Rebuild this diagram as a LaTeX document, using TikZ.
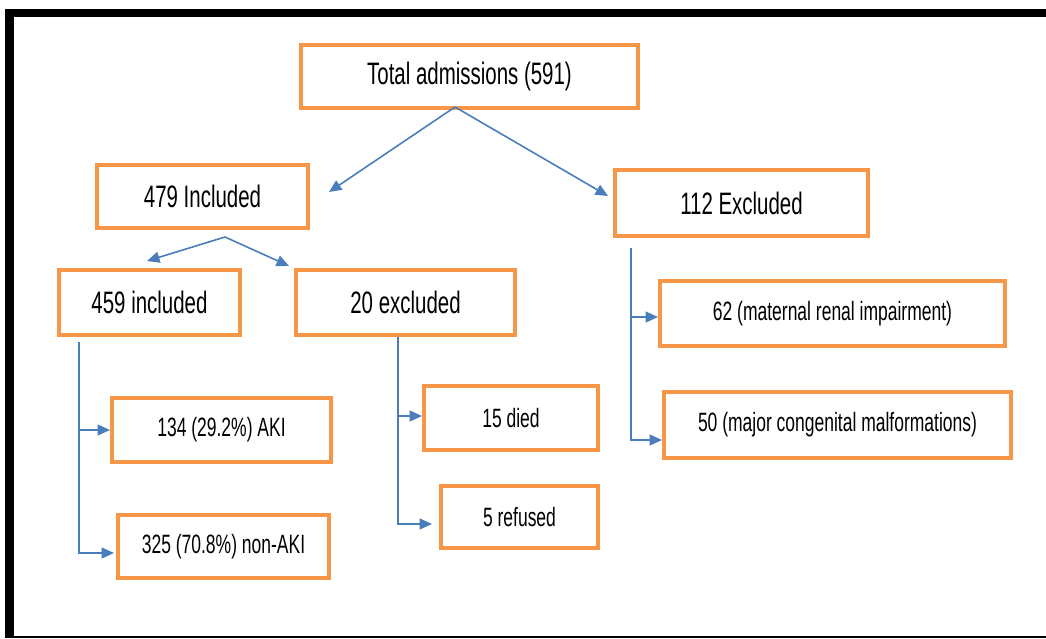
\documentclass[tikz,border=0pt]{standalone}
\usepackage{fontspec}
\setmainfont[FakeStretch=0.66]{Liberation Sans}
\usetikzlibrary{arrows.meta,calc}
\definecolor{boxorange}{RGB}{247,150,70}
\definecolor{linkblue}{RGB}{74,126,187}
\tikzset{
  flowbox/.style={draw=boxorange, line width=4pt, fill=white, inner sep=0pt, text=black, align=center},
  bigtext/.style={font=\fontsize{31}{33}\selectfont},
  smalltext/.style={font=\fontsize{26.5}{28}\selectfont},
  conn/.style={draw=linkblue, line width=1.6pt, -{Triangle[length=12.5pt,width=11pt]}}
}
\begin{document}
\begin{tikzpicture}[x=1pt,y=-1pt]
\useasboundingbox (0,0) rectangle (1046,639);
% frame
\fill[black] (5,9) rectangle (1046,17);
\fill[black] (5,9) rectangle (14,638);
\fill[black] (5,636) rectangle (1046,638);
% nodes
\node[flowbox,bigtext,minimum width=337pt,minimum height=63pt] (total) at (469.5,76.5) {Total admissions (591)};
\node[flowbox,bigtext,minimum width=211pt,minimum height=63pt] (inc) at (202.5,196.5) {479 Included};
\node[flowbox,bigtext,minimum width=253pt,minimum height=66pt] (exc) at (741.5,203) {112 Excluded};
\node[flowbox,bigtext,minimum width=181pt,minimum height=65pt] (b459) at (149.5,302.5) {459 included};
\node[flowbox,bigtext,minimum width=219pt,minimum height=65pt] (b20) at (405.5,302.5) {20 excluded};
\node[flowbox,smalltext,minimum width=219pt,minimum height=64pt] (aki) at (221.5,430) {134 (29.2\%) AKI};
\node[flowbox,smalltext,minimum width=211pt,minimum height=63pt] (nonaki) at (223.5,546.5) {325 (70.8\%) non-AKI};
\node[flowbox,smalltext,minimum width=174pt,minimum height=64pt] (died) at (511,418) {15 died};
\node[flowbox,smalltext,minimum width=157pt,minimum height=62pt] (refused) at (519.5,517) {5 refused};
\node[flowbox,smalltext,minimum width=345pt,minimum height=65pt] (m62) at (832.5,313.5) {62 (maternal renal impairment)};
\node[flowbox,smalltext,minimum width=347pt,minimum height=66pt] (m50) at (837.5,425) {50 (major congenital malformations)};
% connector end points
\coordinate (s1) at (455,107);
\coordinate (e1a) at (329,192);
\coordinate (e1b) at (608,196);
\coordinate (s2) at (225,237);
\coordinate (e2a) at (147,261);
\coordinate (e2b) at (289,266);
\coordinate (v1) at (79,342);
\coordinate (v2) at (398,337);
\coordinate (v3) at (631,248);
% connectors
\draw[conn] (s1) -- (e1a);
\draw[conn] (s1) -- (e1b);
\draw[conn] (s2) -- (e2a);
\draw[conn] (s2) -- (e2b);
\draw[conn] (v1) |- (aki.west);
\draw[conn] (v1) |- ([yshift=-6.5pt,xshift=-2pt]nonaki.west);
\draw[conn] (v2) |- ([yshift=2pt]died.west);
\draw[conn] (v2) |- ([yshift=-7pt,xshift=-7pt]refused.west);
\draw[conn] (v3) |- ([yshift=-3.5pt]m62.west);
\draw[conn] (v3) |- ([yshift=-15pt]m50.west);
\end{tikzpicture}
\end{document}
